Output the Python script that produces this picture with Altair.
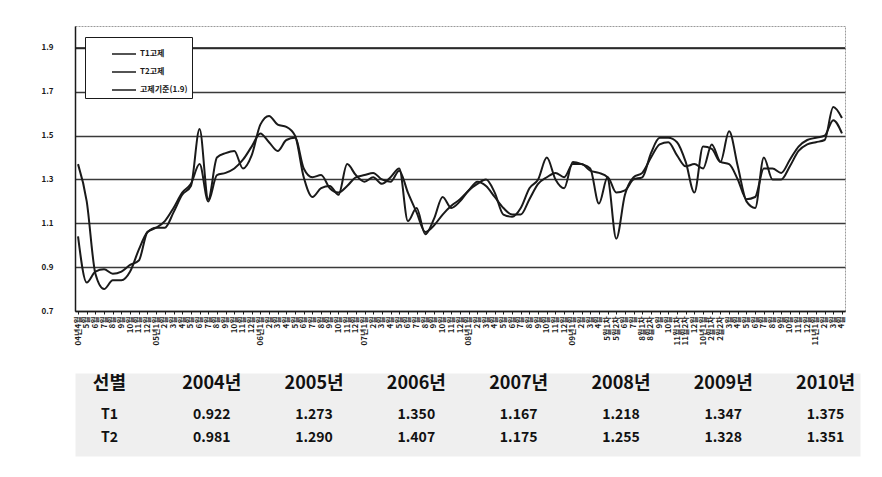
import altair as alt
import pandas as pd

# ---------------- data ----------------
labels = ['04년4월', '5월', '6월', '7월', '8월', '9월', '10월', '11월', '12월',
          '05년1월', '2월', '3월', '4월', '5월', '6월', '7월', '8월', '9월', '10월', '11월', '12월',
          '06년1월', '2월', '3월', '4월', '5월', '6월', '7월', '8월', '9월', '10월', '11월', '12월',
          '07년1월', '2월', '3월', '4월', '5월', '6월', '7월', '8월', '9월', '10월', '11월', '12월',
          '08년1월', '2월', '3월', '4월', '5월', '6월', '7월', '8월', '9월', '10월', '11월', '12월',
          '09년1월', '2월', '3월', '4월', '5월1차', '5월2차', '6월', '7월', '8월1차', '8월2차', '9월', '10월',
          '11월1차', '11월2차', '12월',
          '10년1월', '2월1차', '2월2차', '3월', '4월', '5월', '6월', '7월', '8월', '9월', '10월', '11월', '12월',
          '11년1월', '2월', '3월', '4월']

t1 = [1.04, 0.83, 0.88, 0.89, 0.87, 0.88, 0.91, 0.93, 1.06,
      1.08, 1.11, 1.17, 1.24, 1.28, 1.37, 1.20, 1.32, 1.33, 1.35, 1.39, 1.45,
      1.51, 1.47, 1.43, 1.48, 1.49, 1.35, 1.31, 1.32, 1.26, 1.24, 1.27, 1.31,
      1.32, 1.33, 1.30, 1.29, 1.34, 1.24, 1.15, 1.06, 1.09, 1.14, 1.18, 1.21,
      1.25, 1.29, 1.27, 1.22, 1.17, 1.14, 1.14, 1.21, 1.28, 1.31, 1.33, 1.31,
      1.37, 1.37, 1.34, 1.33, 1.31, 1.03, 1.23, 1.31, 1.33, 1.40, 1.46, 1.47,
      1.41, 1.36, 1.37,
      1.35, 1.46, 1.38, 1.37, 1.30, 1.21, 1.22, 1.35, 1.35, 1.33, 1.39, 1.45, 1.48,
      1.49, 1.50, 1.57, 1.51]

t2 = [1.37, 1.20, 0.87, 0.80, 0.84, 0.84, 0.88, 0.98, 1.06,
      1.08, 1.08, 1.15, 1.23, 1.27, 1.53, 1.21, 1.40, 1.42, 1.43, 1.35, 1.41,
      1.55, 1.59, 1.55, 1.54, 1.50, 1.31, 1.22, 1.26, 1.27, 1.23, 1.37, 1.32,
      1.29, 1.31, 1.28, 1.31, 1.35, 1.11, 1.17, 1.05, 1.12, 1.22, 1.17, 1.20,
      1.25, 1.28, 1.30, 1.24, 1.14, 1.13, 1.17, 1.26, 1.30, 1.40, 1.30, 1.26,
      1.38, 1.37, 1.35, 1.19, 1.31, 1.24, 1.25, 1.30, 1.31, 1.42, 1.49, 1.49,
      1.47, 1.38, 1.24,
      1.45, 1.44, 1.38, 1.52, 1.36, 1.20, 1.17, 1.40, 1.30, 1.30, 1.36, 1.43, 1.46,
      1.47, 1.48, 1.63, 1.58]

threshold = 1.9
y_ticks = [0.7, 0.9, 1.1, 1.3, 1.5, 1.7, 1.9]
series_names = ['T1고제', 'T2고제', '고제기준(1.9)']

table_header = ['선별', '2004년', '2005년', '2006년', '2007년', '2008년', '2009년', '2010년']
table_rows = ['T1', 'T2']
t1_avg = [0.922, 1.273, 1.350, 1.167, 1.218, 1.347, 1.375]
t2_avg = [0.981, 1.290, 1.407, 1.175, 1.255, 1.328, 1.351]

# ---------------- frames ----------------
line_df = pd.DataFrame(
    [{'idx': i, 'series': series_names[0], 'value': v} for i, v in enumerate(t1)] +
    [{'idx': i, 'series': series_names[1], 'value': v} for i, v in enumerate(t2)]
)
rule_df = pd.DataFrame({'series': [series_names[2]], 'value': [threshold]})

header_df = pd.DataFrame({'col': table_header, 'row': ['header'] * len(table_header), 'text': table_header})
body_records = []
for rname, vals in zip(table_rows, [t1_avg, t2_avg]):
    body_records.append({'col': table_header[0], 'row': rname, 'text': rname})
    for c, v in zip(table_header[1:], vals):
        body_records.append({'col': c, 'row': rname, 'text': f'{v:.3f}'})
body_df = pd.DataFrame(body_records)

FONT = 'Noto Sans CJK KR'
INK = '#1a1a1a'

label_expr = '[' + ','.join(f"'{l}'" for l in labels) + '][datum.value]'

color = alt.Color(
    'series:N',
    scale=alt.Scale(domain=series_names, range=[INK, INK, INK]),
    legend=alt.Legend(
        title=None, orient='none', legendX=10, legendY=11,
        symbolType='stroke', symbolSize=576, symbolStrokeWidth=1.5,
        symbolOffset=22, fillColor='white', strokeColor=INK, padding=4,
        labelFont=FONT, labelFontSize=8, labelFontWeight='bold', labelColor=INK,
        rowPadding=1, labelOffset=3,
    ),
)

x_enc = alt.X(
    'idx:O',
    scale=alt.Scale(padding=0.35),
    axis=alt.Axis(
        title=None, labelExpr=label_expr, labelAngle=270, labelFont=FONT,
        labelFontSize=8, labelFontWeight='bold', labelColor=INK,
        labelOverlap=False, tickSize=3, tickColor=INK, domainColor=INK,
        domainWidth=1.5, labelPadding=2, grid=False,
    ),
)
y_enc = alt.Y(
    'value:Q',
    scale=alt.Scale(domain=[0.7, 2.0], nice=False, zero=False),
    axis=alt.Axis(
        title=None, values=y_ticks, format='.1f', grid=True, gridColor='#3a3a3a',
        gridWidth=1.3, ticks=False, domainColor=INK, domainWidth=1.5,
        labelPadding=22, labelFont=FONT, labelFontSize=8, labelFontWeight='bold',
        labelColor=INK,
    ),
)

rule = alt.Chart(rule_df).mark_rule(strokeWidth=1.3).encode(
    y=alt.Y('value:Q', scale=alt.Scale(domain=[0.7, 2.0], nice=False, zero=False)),
    color=color,
)
lines = alt.Chart(line_df).mark_line(strokeWidth=2, interpolate='monotone').encode(
    x=x_enc, y=y_enc, color=color,
)

top = alt.layer(rule, lines).properties(
    width=770, height=285,
    view=alt.ViewBackground(stroke='#9a9a9a', strokeDash=[2, 1]),
)

tx = alt.X('col:N', scale=alt.Scale(type='point', domain=table_header, padding=0.3365), axis=None)
ty = alt.Y('row:N', scale=alt.Scale(type='point', domain=['header'] + table_rows, padding=0.8), axis=None)

head = alt.Chart(header_df).mark_text(
    font=FONT, fontSize=18, fontWeight='bold', color='#111', dy=-7
).encode(x=tx, y=ty, text='text:N')
body = alt.Chart(body_df).mark_text(
    font=FONT, fontSize=14, fontWeight='bold', color='#111'
).encode(x=tx, y=ty, text='text:N')

table = alt.layer(head, body).properties(
    width=785, height=83,
    view=alt.ViewBackground(fill='#efefef', strokeOpacity=0),
)

chart = alt.vconcat(top, table, spacing=27).properties(
    padding={'left': 40, 'top': 25, 'right': 4, 'bottom': 4},
    background='white',
).configure_view(strokeWidth=1).resolve_scale(x='independent', y='independent', color='shared')

chart.save('out.html', embed_options={'renderer': 'svg', 'actions': False})
